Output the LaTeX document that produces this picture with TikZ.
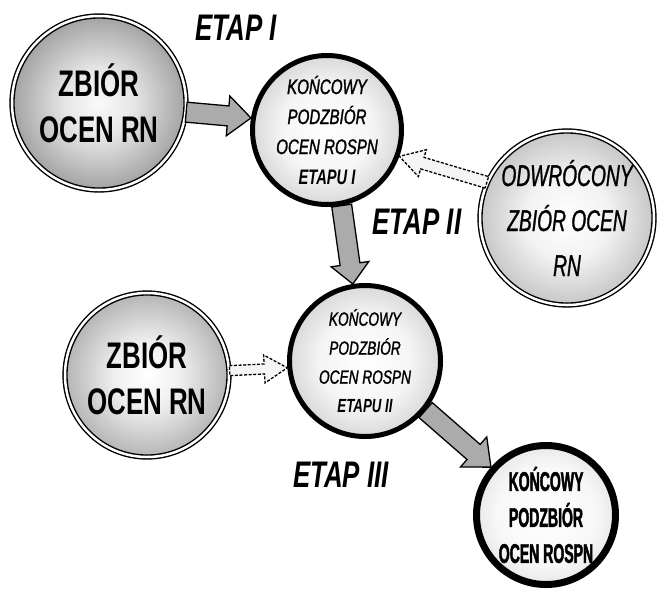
\documentclass[tikz,border=0pt]{standalone}
\usepackage{fontspec}
\setmainfont{Liberation Sans}
\newfontfamily\condfont[FakeStretch=0.70]{Liberation Sans}
\newfontfamily\midfont[FakeStretch=0.72,FakeBold=1.3]{Liberation Sans}
\newfontfamily\slimfont[FakeStretch=0.64,FakeBold=0.9]{Liberation Sans}
\newfontfamily\heavyfont[FakeStretch=0.52,FakeBold=1.6]{Liberation Sans}
\usetikzlibrary{calc}

% radial shadings running over the whole radius
\pgfdeclareradialshading{darkball}{\pgfpoint{0bp}{0bp}}{color(0bp)=(black!2); color(10bp)=(black!10); color(50bp)=(black!80)}
\pgfdeclareradialshading{midball}{\pgfpoint{0bp}{0bp}}{color(0bp)=(white); color(10bp)=(black!6); color(50bp)=(black!68)}
\pgfdeclareradialshading{softball}{\pgfpoint{0bp}{0bp}}{color(0bp)=(white); color(12bp)=(black!5); color(50bp)=(black!55)}
\pgfdeclareradialshading{paleball}{\pgfpoint{0bp}{0bp}}{color(0bp)=(white); color(15bp)=(black!4); color(50bp)=(black!42)}
\pgfdeclareradialshading{whiteball}{\pgfpoint{0bp}{0bp}}{color(0bp)=(white); color(18bp)=(black!3); color(50bp)=(black!30)}

% block arrow: #1 style, #2 tail, #3 tip, #4 half shaft width, #5 half head width, #6 head length
\newcommand\blockarrow[6]{%
  \draw[#1] let \p1=($(#3)-(#2)$), \n1={atan2(\y1,\x1)} in
    ($(#2)+(\n1+90:#4)$)
    -- ($(#3)+(\n1+180:#6)+(\n1+90:#4)$)
    -- ($(#3)+(\n1+180:#6)+(\n1+90:#5)$)
    -- (#3)
    -- ($(#3)+(\n1+180:#6)+(\n1-90:#5)$)
    -- ($(#3)+(\n1+180:#6)+(\n1-90:#4)$)
    -- ($(#2)+(\n1-90:#4)$) -- cycle;}

\tikzset{
  setcircle/.style={circle, draw, double=white, double distance=2.5pt, line width=1.4pt},
  resultcircle/.style={circle, draw, line width=5pt, shading=paleball},
  solidarrow/.style={fill=black!33, draw=black, line width=1.3pt, line join=miter},
  dasharrow/.style={fill=black!4, draw=black, line width=1.3pt, dash pattern=on 3pt off 1.6pt},
  stagelabel/.style={font=\condfont\bfseries\itshape\fontsize{37}{37}\selectfont},
  bigtext/.style={align=center, font=\condfont\bfseries\fontsize{37}{46}\selectfont},
}

\begin{document}
\begin{tikzpicture}[x=1pt,y=-1pt]
  \fill[white] (0,0) rectangle (663,595);
  \useasboundingbox (0,0) rectangle (663,595);

  % circles
  \node[setcircle, minimum size=174pt, shading=darkball] (c1) at (99,103) {};
  \node[resultcircle, minimum size=149pt] (c2) at (327,130) {};
  \node[setcircle, minimum size=174pt, shading=softball] (c3) at (567,218) {};
  \node[setcircle, minimum size=164pt, shading=midball] (c4) at (147,375) {};
  \node[resultcircle, minimum size=151pt] (c5) at (365,361) {};
  \node[resultcircle, line width=7pt, minimum size=139pt, shading=whiteball] (c6) at (546,515) {};

  % texts inside circles
  \node[bigtext] (t1) at (c1) {ZBIÓR\\OCEN RN};
  \node[align=center, font=\midfont\itshape\fontsize{21}{30}\selectfont] (t2) at (c2)
    {KOŃCOWY\\PODZBIÓR\\OCEN ROSPN\\{\condfont\bfseries ETAPU I}};
  \node[align=center, font=\slimfont\itshape\fontsize{30}{45}\selectfont] (t3) at (c3)
    {ODWRÓCONY\\ZBIÓR OCEN\\RN};
  \node[bigtext] (t4) at (c4) {ZBIÓR\\OCEN RN};
  \node[align=center, font=\midfont\itshape\fontsize{19}{29}\selectfont] (t5) at (c5)
    {KOŃCOWY\\PODZBIÓR\\OCEN ROSPN\\{\condfont\bfseries ETAPU II}};
  \node[align=center, font=\heavyfont\bfseries\fontsize{27}{36}\selectfont] (t6) at (c6)
    {KOŃCOWY\\PODZBIÓR\\OCEN ROSPN};

  % stage labels
  \node[stagelabel] (e1) at (236,28) {ETAP I};
  \node[stagelabel] (e2) at (417,222) {ETAP II};
  \node[stagelabel] (e3) at (341,475) {ETAP III};

  % connectors
  \blockarrow{solidarrow}{c1.-6}{c2.171}{10pt}{20pt}{23pt}
  \blockarrow{dasharrow}{c3.156}{c2.-20}{6pt}{14pt}{24pt}
  \blockarrow{solidarrow}{c2.-79}{c5.99}{10pt}{19pt}{20pt}
  \blockarrow{dasharrow}{c4.3}{c5.185}{5pt}{14pt}{23pt}
  \blockarrow{solidarrow}{c5.-39}{c6.139}{10pt}{20pt}{23pt}
\end{tikzpicture}
\end{document}
